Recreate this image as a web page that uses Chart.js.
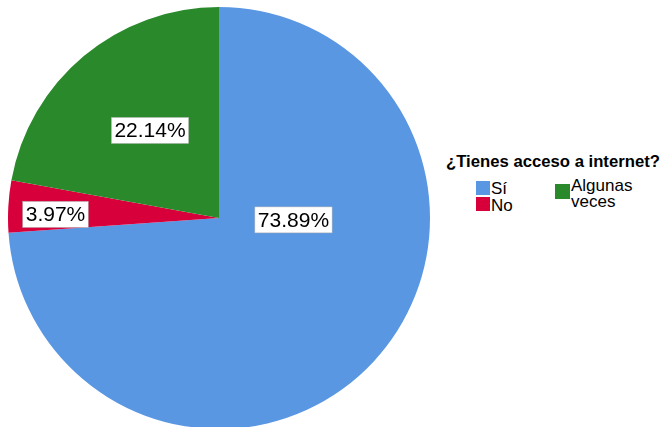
<!DOCTYPE html>
<html>
<head>
<meta charset="utf-8">
<script src="https://cdn.jsdelivr.net/npm/chart.js@4"></script>
<style>
  body { margin: 0; background: #fff; width: 663px; height: 427px; overflow: hidden; position: relative; font-family: "Liberation Sans", Arial, sans-serif; }
  #pie-wrap { position: absolute; left: 8px; top: 7px; width: 422px; height: 422px; }
  #legend-title { position: absolute; left: 446px; top: 152px; margin: 0; font-size: 16.7px; line-height: 20px; font-weight: bold; white-space: nowrap; color: #000; }
  .item { position: absolute; font-size: 17px; line-height: 16px; color: #000; white-space: nowrap; }
  .swatch { position: absolute; }
</style>
</head>
<body>
<div id="pie-wrap"><canvas id="pie"></canvas></div>
<h3 id="legend-title"></h3>
<div id="legend-items"></div>
<script>
const legendTitle = '¿Tienes acceso a internet?';
const categories = ['Sí', 'No', 'Algunas veces'];
const percentages = [73.89, 3.97, 22.14];
const colors = ['#5a97e2', '#d8003b', '#2a8a2b'];

// where each value box sits, as a fraction of the radius from the centre
const labelOffsets = [[0.353, 0.009], [-0.775, -0.017], [-0.327, -0.415]];

const boxLabels = {
    id: 'boxLabels',
    afterDatasetsDraw(chart) {
        const ctx = chart.ctx;
        const meta = chart.getDatasetMeta(0);
        ctx.save();
        ctx.font = '21px "Liberation Sans", Arial, sans-serif';
        ctx.textAlign = 'center';
        ctx.textBaseline = 'middle';
        meta.data.forEach((arc, i) => {
            const x = arc.x + labelOffsets[i][0] * arc.outerRadius;
            const y = arc.y + labelOffsets[i][1] * arc.outerRadius;
            const text = percentages[i].toFixed(2) + '%';
            const w = ctx.measureText(text).width + 6;
            const h = 26;
            ctx.fillStyle = '#fff';
            ctx.fillRect(x - w / 2, y - h / 2, w, h);
            ctx.strokeStyle = '#b0b0b0';
            ctx.lineWidth = 0.5;
            ctx.strokeRect(x - w / 2, y - h / 2, w, h);
            ctx.fillStyle = '#000';
            ctx.fillText(text, x, y + 1);
        });
        ctx.restore();
    }
};

new Chart(document.getElementById('pie'), {
    type: 'pie',
    data: {
        labels: categories,
        datasets: [{
            data: percentages,
            backgroundColor: colors,
            borderWidth: 0
        }]
    },
    options: {
        responsive: true,
        maintainAspectRatio: false,
        animation: false,
        layout: { padding: 0 },
        plugins: {
            legend: { display: false },
            tooltip: { enabled: false }
        }
    },
    plugins: [boxLabels]
});

// legend laid out in two columns like the original
document.getElementById('legend-title').textContent = legendTitle;
const swatchBoxes = [[476, 181, 14, 14], [476, 197, 14, 14], [555, 184, 15, 15]];
const textPos = [[491, 181], [491, 198], [571, 178]];
const items = document.getElementById('legend-items');
categories.forEach((c, i) => {
    const sw = document.createElement('div');
    sw.className = 'swatch';
    const [x, y, w, h] = swatchBoxes[i];
    sw.style.cssText = `left:${x}px;top:${y}px;width:${w}px;height:${h}px;background:${colors[i]}`;
    items.appendChild(sw);
    const t = document.createElement('div');
    t.className = 'item';
    t.style.left = textPos[i][0] + 'px';
    t.style.top = textPos[i][1] + 'px';
    t.innerHTML = c === 'Algunas veces' ? 'Algunas<br>veces' : c;
    items.appendChild(t);
});
</script>
</body>
</html>
